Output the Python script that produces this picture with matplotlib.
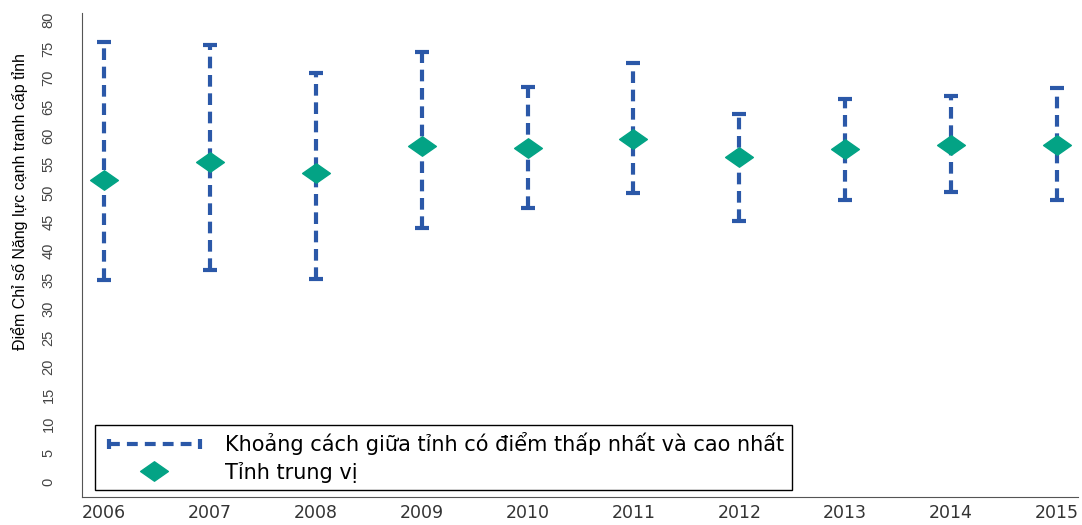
import matplotlib.pyplot as plt
from matplotlib.lines import Line2D
from matplotlib.path import Path
from matplotlib.legend_handler import HandlerLine2D

# --- data ---
years = [2006, 2007, 2008, 2009, 2010, 2011, 2012, 2013, 2014, 2015]
lowest = [35.0, 36.7, 35.2, 44.0, 47.4, 50.0, 45.2, 48.8, 50.2, 48.8]
highest = [76.2, 75.7, 70.8, 74.5, 68.4, 72.6, 63.7, 66.3, 66.8, 68.2]
median = [52.3, 55.4, 53.5, 58.2, 57.8, 59.4, 56.3, 57.7, 58.4, 58.4]
yticks = list(range(0, 85, 5))

blue = "#2B58A8"
green = "#03A385"

range_label = "Khoảng cách giữa tỉnh có điểm thấp nhất và cao nhất"
median_label = "Tỉnh trung vị"
ylabel = "Điểm Chỉ số Năng lực cạnh tranh cấp tỉnh"

# flat diamond marker
diamond = Path([(-1, 0), (0, 0.7), (1, 0), (0, -0.7), (-1, 0)],
               [Path.MOVETO, Path.LINETO, Path.LINETO, Path.LINETO, Path.CLOSEPOLY])

narrow = ["Liberation Sans Narrow", "Liberation Sans"]

fig = plt.figure(figsize=(10.82, 5.25), dpi=100)
ax = fig.add_axes([0.0758, 0.0533, 0.9205, 0.922])

ax.vlines(years, lowest, highest, colors=blue, linewidth=3, linestyles=(0, (2.8, 1.6)), zorder=2)
ax.plot(years, lowest, ls="none", marker="_", ms=10, mew=3, color=blue, zorder=2)
ax.plot(years, highest, ls="none", marker="_", ms=10, mew=3, color=blue, zorder=2)
ax.plot(years, median, ls="none", marker=diamond, ms=20, color=green, mec=green, zorder=3)

ax.set_xlim(2005.79, 2015.2)
ax.set_ylim(-2.6, 81.2)
ax.set_xticks(years)
ax.set_xticklabels([str(y) for y in years], fontsize=12.5, family="DejaVu Sans", color="#333333")
ax.set_yticks(yticks)
ax.set_yticklabels([str(v) for v in yticks], rotation=90, va="center",
                   fontsize=10.5, family=narrow, color="#444444")
ax.tick_params(axis="both", length=0)
ax.tick_params(axis="y", pad=19)
ax.tick_params(axis="x", pad=5)
ax.set_ylabel(ylabel, fontsize=11.5, family=narrow)
ax.yaxis.set_label_coords(-0.054, 0.61)

for s in ["top", "right"]:
    ax.spines[s].set_visible(False)
ax.spines["left"].set_color("#555555")
ax.spines["bottom"].set_color("#555555")

# legend proxies
h_range = Line2D([], [], color=blue, lw=3, ls=(0, (2.6, 1.7)), marker="|", ms=7, mew=3)
h_med = Line2D([], [], ls="none", marker=diamond, ms=20, color=green)
leg = ax.legend([h_range, h_med], [range_label, median_label],
                handler_map={h_range: HandlerLine2D(numpoints=2), h_med: HandlerLine2D(numpoints=1)},
                loc="lower left", bbox_to_anchor=(0.013, 0.0145), borderaxespad=0,
                prop={"family": "DejaVu Sans", "size": 15}, handlelength=5.0, handletextpad=0.9,
                fancybox=False, edgecolor="black", framealpha=1, labelspacing=0.3,
                borderpad=0.35)
leg.get_frame().set_linewidth(1)

fig.savefig("out.png", dpi=100)
